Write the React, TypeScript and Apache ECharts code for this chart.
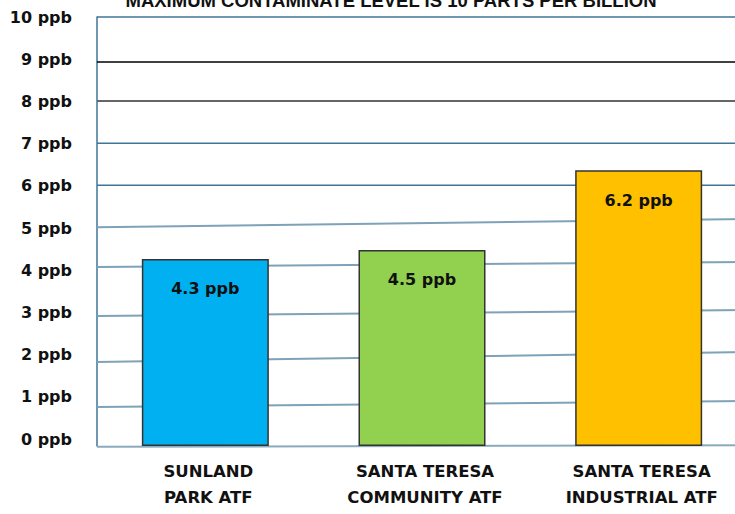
import React, { useEffect, useRef } from "react";
import * as echarts from "echarts";

const titleText = "MAXIMUM CONTAMINATE LEVEL IS 10 PARTS PER BILLION";
const categories = ["SUNLAND\nPARK ATF", "SANTA TERESA\nCOMMUNITY ATF", "SANTA TERESA\nINDUSTRIAL ATF"];
const barHeights = [4.36, 4.57, 6.43];
const barLabels = ["4.3 ppb", "4.5 ppb", "6.2 ppb"];
const barColors = ["#00b0f0", "#92d050", "#ffc000"];
const yTickValues = [0, 1, 2, 3, 4, 5, 6, 7, 8, 9, 10];
// hand-drawn gridlines (slightly tilted): value at left end and right end
const gridLeftValues = [10, 8.95, 8.04, 7.06, 6.08, 5.1, 4.17, 3.03, 1.96, 0.91, -0.02];
const gridRightValues = [10, 8.95, 8.04, 7.06, 6.08, 5.29, 4.29, 3.17, 2.19, 1.05, 0.02];
const gridColors = ["#3f7596", "#000000", "#666666", "#3f7596", "#3f7596", "#7ea2b8", "#7ea2b8", "#7ea2b8", "#7ea2b8", "#7ea2b8", "#8aaabd"];
const gridWidths = [1.5, 1.5, 2, 1.5, 1.5, 2, 2, 2, 2, 2, 2];

export default function App() {
  const ref = useRef<HTMLDivElement>(null);
  useEffect(() => {
    document.body.style.overflow = "hidden";
    if (!ref.current) return;
    const chart = echarts.init(ref.current, undefined, { renderer: "svg" });
    const gridSeries = gridLeftValues.map((lv, i) => ({
      type: "line",
      xAxisIndex: 2,
      yAxisIndex: 1,
      data: [
        [0, lv],
        [1, gridRightValues[i]],
      ],
      symbol: "none",
      clip: false,
      silent: true,
      z: 1,
      lineStyle: { color: gridColors[i], width: gridWidths[i] },
    }));
    chart.setOption({
      animation: false,
      graphic: [
        {
          type: "text",
          x: 391,
          y: 0,
          style: {
            text: titleText,
            font: "bold 18.5px 'Liberation Sans', Arial, sans-serif",
            fill: "#111",
            align: "center",
            verticalAlign: "middle",
          },
        },
      ],
      grid: [
        { left: 97, right: 0, top: 17, bottom: 75 },
        { left: 97, right: 0, top: 17, bottom: 68 },
      ],
      xAxis: [
        { type: "value", gridIndex: 0, show: false, min: 0, max: 1 },
        {
          type: "category",
          gridIndex: 1,
          data: categories,
          axisLine: { show: false },
          axisTick: { show: false },
          axisLabel: {
            fontFamily: "'DejaVu Sans', sans-serif",
            fontWeight: "bold",
            fontSize: 16.5,
            color: "#111",
            lineHeight: 26,
            margin: 12,
            padding: [0, 0, 0, 6],
          },
        },
        { type: "value", gridIndex: 1, show: false, min: 0, max: 1 },
      ],
      yAxis: [
        {
          type: "value",
          gridIndex: 0,
          min: 0,
          max: 10,
          interval: 1,
          axisLine: { show: false },
          axisTick: { show: false },
          splitLine: { show: false },
          axisLabel: {
            formatter: (v: number) => (yTickValues.includes(v) ? `${v} ppb` : ""),
            fontFamily: "'DejaVu Sans', sans-serif",
            fontWeight: "bold",
            fontSize: 16,
            color: "#111",
            margin: 25,
          },
        },
        {
          type: "value",
          gridIndex: 1,
          min: 0,
          max: 10,
          interval: 1,
          axisLabel: { show: false },
          axisTick: { show: false },
          splitLine: { show: false },
          axisLine: { show: true, lineStyle: { color: "#3f7596", width: 1.5 } },
        },
      ],
      series: [
        ...gridSeries,
        {
          type: "bar",
          xAxisIndex: 1,
          yAxisIndex: 1,
          barWidth: 127,
          z: 3,
          data: barHeights.map((v, i) => ({
            value: v,
            itemStyle: { color: barColors[i], borderColor: "#333", borderWidth: 1.5 },
          })),
          label: {
            show: true,
            position: "insideTop",
            distance: 22,
            formatter: (p: any) => barLabels[p.dataIndex],
            fontFamily: "'DejaVu Sans', sans-serif",
            fontWeight: "bold",
            fontSize: 16,
            color: "#111",
          },
        },
      ],
    });
    return () => chart.dispose();
  }, []);
  return (
    <div
      ref={ref}
      style={{ position: "fixed", left: 0, top: 0, width: 747, height: 514, background: "#fff" }}
    />
  );
}
